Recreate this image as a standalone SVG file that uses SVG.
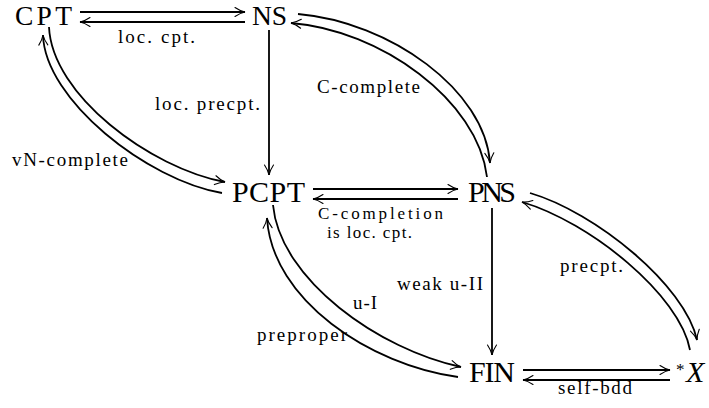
<svg xmlns="http://www.w3.org/2000/svg" width="709" height="408" viewBox="0 0 709 408">
<style>
.n{font-family:"Liberation Serif","Times New Roman",serif;font-size:30px;fill:#000}
.t{font-size:27.5px}
.l{font-family:"Liberation Serif","Times New Roman",serif;font-size:19px;fill:#000}
.s{font-size:17px}
.c{fill:none;stroke:#000;stroke-width:1.8;marker-end:url(#ah)}
</style>
<defs>
<marker id="ah" markerUnits="userSpaceOnUse" markerWidth="14" markerHeight="12" viewBox="-12 -6 14 12" refX="0" refY="0" orient="auto" overflow="visible">
<path d="M-10,-4.5 C-6,-1.8 -2.5,-0.5 0,0 C-2.5,0.5 -6,1.8 -10,4.5" fill="none" stroke="#000" stroke-width="1.1" stroke-linecap="round"/>
</marker>
</defs>
<rect width="709" height="408" fill="#fff"/>
<g id="connectors">
<path class="c" d="M80,12 H245"/>
<path class="c" d="M245,22 H80"/>
<path class="c" d="M269,30 V175"/>
<path class="c" d="M313,189 H458"/>
<path class="c" d="M458,199 H313"/>
<path class="c" d="M492,208 V355"/>
<path class="c" d="M523,370 H670"/>
<path class="c" d="M670,380 H523"/>
<path class="c" d="M49,27 C52,95 150,168 225,182"/>
<path class="c" d="M222,193 C147,180 45,100 43,35"/>
<path class="c" d="M298,14 C390,22 485,90 490,163"/>
<path class="c" d="M487,177 C478,100 380,30 291,23"/>
<path class="c" d="M530,193 C595,212 685,285 697,340"/>
<path class="c" d="M690,350 C680,295 590,222 522,202"/>
<path class="c" d="M273,205 C280,280 380,350 461,367"/>
<path class="c" d="M458,377 C370,365 272,300 267,218"/>
</g>
<g id="labels">
<text class="l" x="118" y="43" textLength="77">loc. cpt.</text>
<text class="l" x="155" y="110" textLength="105">loc. precpt.</text>
<text class="l" x="317" y="93" textLength="103">C-complete</text>
<text class="l" x="12" y="166" textLength="116">vN-complete</text>
<text class="l s" x="318" y="219" textLength="125">C-completion</text>
<text class="l s" x="327" y="238" textLength="85">is loc. cpt.</text>
<text class="l" x="397" y="290" textLength="86">weak u-II</text>
<text class="l" x="353" y="309" textLength="24">u-I</text>
<text class="l" x="257" y="341" textLength="90">preproper</text>
<text class="l" x="560" y="272" textLength="63">precpt.</text>
<text class="l" x="558" y="394" textLength="74">self-bdd</text>
</g>
<g id="CPT"><text class="n t" x="15" y="25" textLength="57">CPT</text></g>
<g id="NS"><text class="n t" x="252" y="25" textLength="35">NS</text></g>
<g id="PCPT"><text class="n" x="232" y="202" textLength="73">PCPT</text></g>
<g id="PNS"><text class="n" x="468" y="202" textLength="48">PNS</text></g>
<g id="FIN"><text class="n" x="469" y="382" textLength="46">FIN</text></g>
<g id="starX"><text class="l s" x="676" y="375">*</text><text class="n" x="686" y="382" font-style="italic">X</text></g>
</svg>
